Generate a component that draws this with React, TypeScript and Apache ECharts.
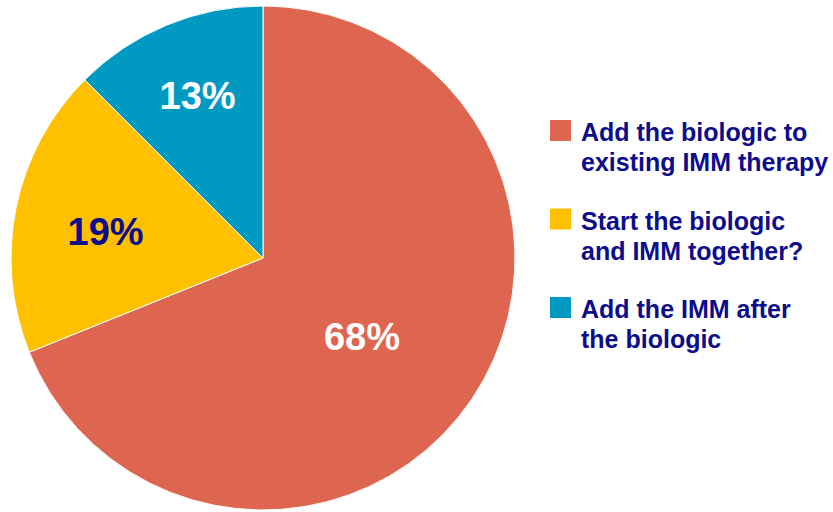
import React, { useEffect, useRef } from "react";
import * as echarts from "echarts";

const categories = [
  "Add the biologic to existing IMM therapy",
  "Start the biologic and IMM together?",
  "Add the IMM after the biologic",
];
const legendLines = [
  "Add the biologic to\nexisting IMM therapy",
  "Start the biologic\nand IMM together?",
  "Add the IMM after\nthe biologic",
];
// slice sizes as drawn in the picture, and the printed percentage labels
const values = [68.9, 18.6, 12.5];
const percentLabels = ["68%", "19%", "13%"];
const colors = ["#DE6550", "#FFC000", "#0099C2"];
const labelColors = ["#FFFFFF", "#0C0C8C", "#FFFFFF"];
const labelShift = [
  [-8, 7],
  [-31, 0],
  [-16, -43],
];

const FONT = "'Liberation Sans', Arial, Helvetica, sans-serif";
const NAVY = "#0C0C8C";

export default function App() {
  const ref = useRef<HTMLDivElement>(null);
  useEffect(() => {
    document.body.style.margin = "0";
    const chart = echarts.init(ref.current!, null, { renderer: "svg" });
    const legendGraphics: any[] = [];
    categories.forEach((_, i) => {
      const top = 117 + i * 88.5;
      legendGraphics.push({
        type: "rect",
        shape: { x: 550, y: top + 3, width: 21, height: 21 },
        style: { fill: colors[i] },
      });
      legendGraphics.push({
        type: "text",
        x: 581,
        y: top,
        style: {
          text: legendLines[i],
          font: `bold 25px ${FONT}`,
          fill: NAVY,
          lineHeight: 30,
          verticalAlign: "top",
        },
      });
    });
    chart.setOption({
      animation: false,
      backgroundColor: "#FFFFFF",
      graphic: legendGraphics,
      series: [
        {
          type: "pie",
          center: [263, 258],
          radius: [0, 252],
          startAngle: 90,
          clockwise: true,
          itemStyle: { borderColor: "#FFFFFF", borderWidth: 1 },
          label: {
            show: true,
            position: "inner",
            formatter: (p: any) => percentLabels[p.dataIndex],
            fontFamily: FONT,
            fontWeight: "bold",
            fontSize: 38,
          },
          labelLine: { show: false },
          labelLayout: (p: any) => ({
            dx: labelShift[p.dataIndex][0],
            dy: labelShift[p.dataIndex][1],
          }),
          emphasis: { disabled: true },
          data: categories.map((name, i) => ({
            name,
            value: values[i],
            itemStyle: { color: colors[i] },
            label: { color: labelColors[i] },
          })),
        },
      ],
    });
    return () => chart.dispose();
  }, []);
  return <div ref={ref} style={{ width: 833, height: 512 }} />;
}
